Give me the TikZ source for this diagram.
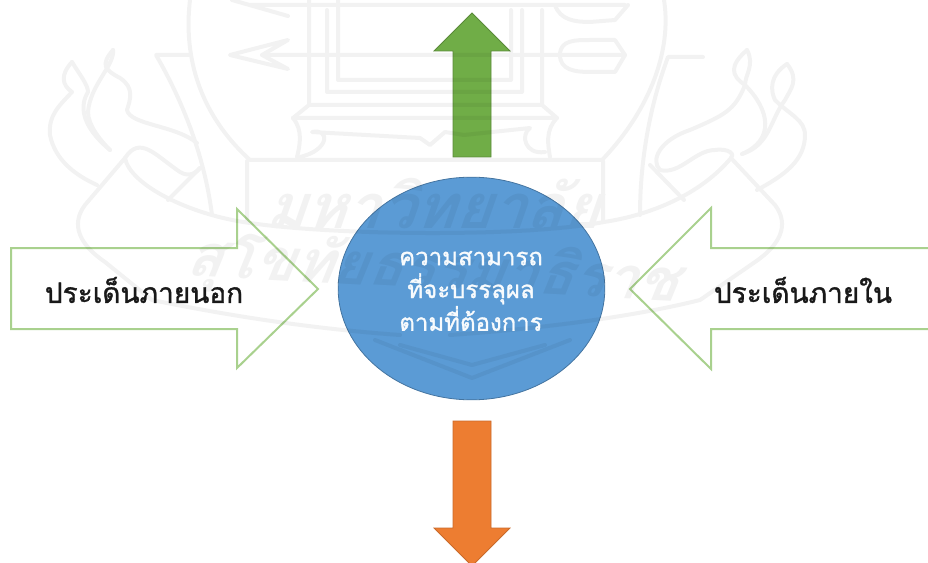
\documentclass[tikz,border=0pt]{standalone}
\usepackage{fontspec}
\newfontfamily\thaifont[Script=Thai,FakeBold=1.2]{Loma}
\newfontfamily\thaislant[Script=Thai,FakeSlant=0.35]{Loma Bold}
\definecolor{wblue}{HTML}{5B9BD5}
\definecolor{wgreen}{HTML}{70AD47}
\definecolor{worange}{HTML}{ED7D31}
\definecolor{wline}{HTML}{A9D18E}
\usetikzlibrary{shapes.geometric}
\tikzset{
  mark line/.style={draw=black,line width=3pt,line join=round,line cap=round},
  mark text/.style={text=black,inner sep=0pt},
  side arrow/.style={draw=wline,line width=1.5pt,fill=white,line join=miter},
  solid arrow/.style={line width=.6pt,line join=miter},
  side label/.style={font=\thaifont\fontsize{21}{24}\selectfont,text=black!90,inner sep=0pt},
  hub/.style={ellipse,draw=wblue!75!black,line width=.6pt,fill=wblue,minimum width=200pt,minimum height=167pt,inner sep=0pt},
  hub label/.style={align=center,text=white!96!wblue,font=\thaifont\fontsize{18}{24.6}\selectfont,inner sep=0pt}
}
\begin{document}
\begin{tikzpicture}[x=0.75pt,y=-0.75pt]
\useasboundingbox (0,0) rectangle (928,563);
% shapes
\path[side arrow] (11,248) -- (237,248) -- (237,209) -- (318,289) -- (237,368) -- (237,329) -- (11,329) -- cycle;
\path[side arrow] (930,248) -- (711,248) -- (711,208) -- (630,289) -- (711,369) -- (711,329) -- (930,329);
\node[hub] (hubnode) at (471.5,288.5) {};
\path[solid arrow,fill=wgreen,draw=wgreen!80!black] (472,13) -- (510,51) -- (491,51) -- (491,157) -- (453,157) -- (453,51) -- (434,51) -- cycle;
\path[solid arrow,fill=worange,draw=worange!85!black] (453,421) -- (491,421) -- (491,528) -- (510,528) -- (472,566) -- (434,528) -- (453,528) -- cycle;
% faint emblem over everything
\begin{scope}[transparency group,opacity=.05]
\draw[mark line] (190,0) .. controls (184,50) and (195,110) .. (250,160) -- (602,160) .. controls (650,110) and (672,50) .. (664,0);
\draw[mark line] (247,161) -- (247,222);
\draw[mark line] (603,161) -- (603,222);
\draw[mark line] (250,5) -- (625,5);
\draw[mark line] (262,55) -- (625,55);
\draw[mark line] (288,40) -- (230,55) -- (288,69) -- (262,55) -- cycle;
\draw[mark line] (288,16) -- (232,0);
\draw[mark line] (560,55) .. controls (560,40) and (575,40) .. (590,40) -- (615,40) -- (625,55) -- (615,72) -- (590,72) .. controls (575,72) and (560,70) .. (560,55);
\draw[mark line] (555,5) .. controls (560,20) and (575,22) .. (590,22) -- (615,20) -- (628,5);
\draw[mark line] (309,0) -- (309,105);
\draw[mark line] (338,0) -- (338,80) -- (464,80);
\draw[mark line] (327,10) -- (327,92) -- (522,92) -- (522,10);
\draw[mark line] (511,10) -- (511,80) -- (464,80);
\draw[mark line] (542,10) -- (542,105) -- (309,105);
\draw[mark line] (293,118) -- (557,118) -- (542,105);
\draw[mark line] (293,118) -- (309,105);
\draw[mark line] (293,118) .. controls (303,130) and (300,145) .. (297,157);
\draw[mark line] (557,118) .. controls (545,130) and (548,145) .. (550,157);
\draw[mark line] (300,157) .. controls (330,150) and (330,128) .. (312,132) -- (420,138) -- (430,145) -- (445,132) -- (464,135) -- (530,128) .. controls (520,135) and (525,155) .. (545,152);
% left side
\draw[mark line] (190,55) -- (156,55) .. controls (185,105) and (205,160) .. (212,215);
\draw[mark line] (72,62) .. controls (60,75) and (62,85) .. (72,92) .. controls (60,105) and (48,115) .. (50,135) .. controls (55,160) and (75,175) .. (97,185);
\draw[mark line] (72,62) .. controls (80,75) and (88,85) .. (88,92) .. controls (80,105) and (80,125) .. (110,150);
\draw[mark line] (113,50) .. controls (100,65) and (105,70) .. (120,78) .. controls (135,88) and (130,100) .. (127,110) .. controls (130,125) and (175,125) .. (197,143);
\draw[mark line] (113,50) .. controls (115,65) and (90,85) .. (88,112) .. controls (88,125) and (100,140) .. (110,150);
\draw[mark line] (125,158) .. controls (140,135) and (155,155) .. (180,172) .. controls (190,178) and (197,172) .. (200,168);
\draw[mark line] (125,158) .. controls (130,185) and (190,215) .. (250,223) .. controls (330,235) and (520,238) .. (604,222) .. controls (650,215) and (700,195) .. (731,158);
\draw[mark line] (200,168) -- (168,200);
\draw[mark line] (125,158) -- (85,205) .. controls (70,225) and (80,245) .. (105,262) -- (152,300) .. controls (250,320) and (330,330) .. (400,335);
% right side
\draw[mark line] (703,57) -- (668,57) .. controls (650,105) and (640,160) .. (640,215);
\draw[mark line] (747,50) .. controls (730,65) and (730,75) .. (745,85) .. controls (735,110) and (725,115) .. (690,130) .. controls (660,140) and (650,160) .. (660,170) .. controls (680,175) and (695,150) .. (715,150) .. controls (730,148) and (735,155) .. (731,158);
\draw[mark line] (747,50) .. controls (755,65) and (745,75) .. (745,85) .. controls (770,110) and (775,140) .. (742,154);
\draw[mark line] (787,64) .. controls (770,75) and (770,90) .. (775,100) .. controls (790,115) and (805,120) .. (805,135) .. controls (805,160) and (785,175) .. (757,190);
\draw[mark line] (787,64) .. controls (800,80) and (790,90) .. (785,100) .. controls (770,120) and (770,145) .. (742,154);
\draw[mark line] (650,165) -- (684,200);
\draw[mark line] (731,158) -- (775,205) .. controls (790,225) and (780,245) .. (755,262) -- (700,300) .. controls (620,320) and (520,330) .. (450,335);
% lower shield
\draw[mark line] (375,340) -- (472,378) -- (570,340);
\draw[mark line] (400,345) -- (472,365) -- (545,345);
\node[mark text,font=\thaislant\fontsize{46}{50}\selectfont] (marktop) at (432,204) {มหาวิทยาลัย};
\node[mark text,font=\thaislant\fontsize{44}{50}\selectfont,rotate=-3] (markbot) at (432,272) {สุโขทัยธรรมาธิราช};
\end{scope}
% labels
\node[side label] (outer) at (144,290) {ประเด็นภายนอก};
\node[side label] (inner) at (803,290) {ประเด็นภายใน};
\node[hub label] (hubtext) at (471,291) {ความสามารถ\\ที่จะบรรลุผล\\ตามที่ต้องการ};
\end{tikzpicture}
\end{document}
